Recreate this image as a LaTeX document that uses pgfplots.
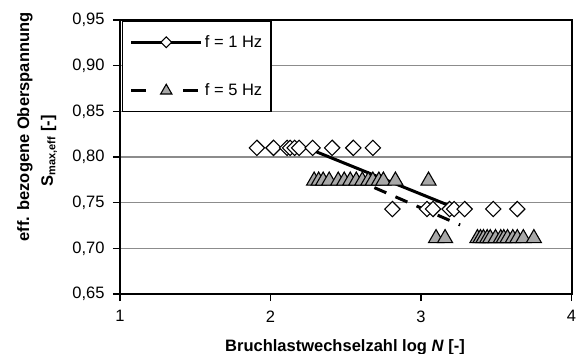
\documentclass[border=0pt]{standalone}
\usepackage{pgfplots}
\pgfplotsset{compat=1.18}
\usepackage{fontspec}
\setmainfont{Liberation Sans}
\definecolor{gridgray}{RGB}{140,140,140}
\definecolor{trifill}{RGB}{168,168,168}
\newcommand{\chartfont}{\fontsize{16.5bp}{19bp}\selectfont}
\pgfplotsset{
  legA/.style={legend image code/.code={\draw[mark repeat=2,mark phase=2,##1] plot coordinates {(0bp,0bp) (35bp,0bp) (70bp,0bp)};}},
  legB/.style={legend image code/.code={
    \draw[##1, mark=none] (0bp,0bp) -- (15bp,0bp);
    \draw[##1, mark=none] (52bp,0bp) -- (67bp,0bp);
    \draw[##1, draw=none] plot coordinates {(35bp,0bp)};}},
}
\begin{document}
\begin{tikzpicture}
\useasboundingbox (-120bp,-60bp) rectangle (456bp,294bp);
\begin{axis}[
  at={(0,0)}, anchor=south west,
  width=451.5bp, height=274bp, scale only axis,
  xmin=1, xmax=4, ymin=0.65, ymax=0.95,
  xtick={1,2,3,4}, ytick={0.65,0.70,0.75,0.80,0.85,0.90,0.95},
  tick pos=left, tick align=outside, major tick length=7bp,
  ymajorgrids, grid style={gridgray, line width=1.5bp},
  axis line style={black, line width=2bp},
  tick style={black, line width=1.5bp},
  /pgf/number format/assume math mode=true,
  ticklabel style={font=\chartfont},
  yticklabel style={xshift=-5bp, /pgf/number format/.cd, fixed, fixed zerofill, precision=2, use comma},
  xticklabel style={yshift=-6bp},
  clip=false,
  legend cell align=left,
  legend style={at={(axis description cs:0.004,0.997)}, anchor=north west,
    draw=black, line width=1.6bp, fill=white, font=\chartfont,
    inner xsep=7bp, inner ysep=12bp, row sep=31bp},
]
% f = 1 Hz data (diamonds)
\addplot[only marks, mark=square*, mark size=5.4bp,
  mark options={rotate=45, fill=white, draw=black, line width=1.1bp}, forget plot]
  coordinates {
  (1.91,0.81) (2.02,0.81) (2.11,0.81) (2.13,0.81) (2.16,0.81) (2.19,0.81)
  (2.28,0.81) (2.41,0.81) (2.55,0.81) (2.68,0.81)
  (2.81,0.743) (3.04,0.743) (3.08,0.743) (3.19,0.743) (3.22,0.743)
  (3.29,0.743) (3.48,0.743) (3.64,0.743)
  };
% f = 5 Hz data (triangles)
\addplot[only marks, mark=triangle*, mark size=8.7bp,
  mark options={fill=trifill, draw=black, line width=1.1bp}, forget plot]
  coordinates {
  (2.29,0.774) (2.32,0.774) (2.35,0.774) (2.39,0.774) (2.45,0.774) (2.49,0.774)
  (2.53,0.774) (2.57,0.774) (2.61,0.774) (2.65,0.774) (2.68,0.774) (2.72,0.774)
  (2.75,0.774) (2.83,0.774) (3.05,0.774)
  (3.10,0.711) (3.16,0.711) (3.375,0.711) (3.395,0.711) (3.415,0.711) (3.44,0.711)
  (3.46,0.711) (3.495,0.711) (3.53,0.711) (3.55,0.711) (3.575,0.711) (3.61,0.711)
  (3.64,0.711) (3.68,0.711) (3.75,0.711)
  };
% regression lines
\addplot[black, line width=3bp, forget plot] coordinates {(2.27,0.808) (3.20,0.746)};
\addplot[black, line width=3bp, dash pattern=on 13bp off 10bp, forget plot]
  coordinates {(2.55,0.7765) (3.26,0.7256)};
% legend
\addlegendimage{legA, black, line width=3.3bp, mark=square*, mark size=3.8bp,
  mark options={rotate=45, fill=white, draw=black, line width=1.1bp, solid}}
\addlegendentry{f = 1 Hz}
\addlegendimage{legB, black, line width=3.3bp, mark=triangle*, mark size=6.5bp,
  mark options={fill=trifill, draw=black, line width=1.1bp, solid}}
\addlegendentry{f = 5 Hz}
\end{axis}
\node[font=\chartfont\bfseries, rotate=90, anchor=center] at (-95bp,167bp) {eff. bezogene Oberspannung};
\node[font=\chartfont\bfseries, rotate=90, anchor=center] at (-71bp,143bp) {S\textsubscript{\fontsize{11bp}{12bp}\selectfont max,eff} [-]};
\node[font=\chartfont\bfseries, anchor=base] at (225bp,-57bp) {Bruchlastwechselzahl log \textit{N} [-]};
\end{tikzpicture}
\end{document}
